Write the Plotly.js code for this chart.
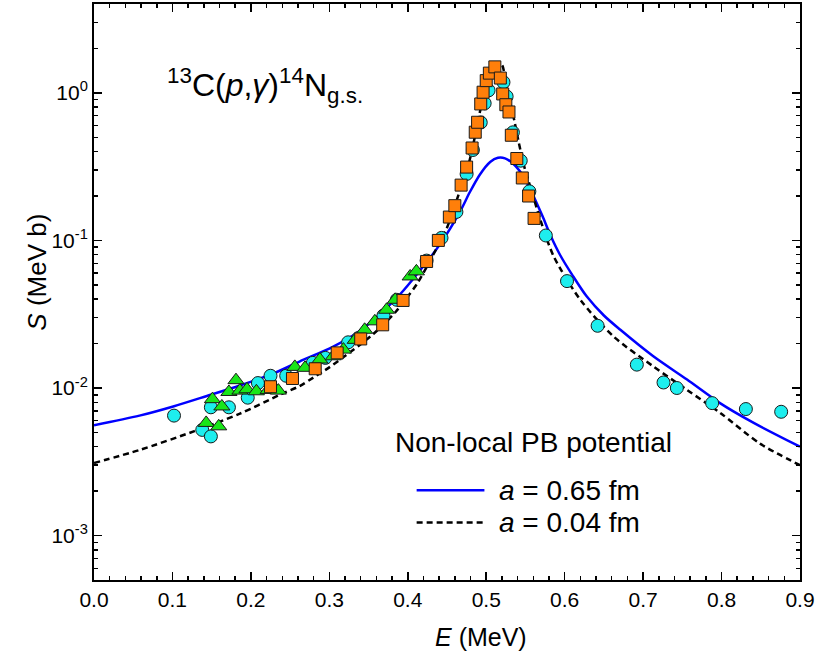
<!DOCTYPE html>
<html>
<head>
<meta charset="utf-8">
<script src="https://cdn.plot.ly/plotly-3.0.1.min.js"></script>
<style>html,body{margin:0;padding:0;background:#fff;}#chart{width:817px;height:665px;}</style>
</head>
<body>
<div id="chart"></div>
<script>
// Experimental data: cyan circles
var cyanE = [0.102, 0.138, 0.149, 0.149, 0.172, 0.196, 0.209, 0.225, 0.245, 0.279, 0.295, 0.324, 0.337, 0.369, 0.386, 0.424, 0.443, 0.462, 0.475, 0.483, 0.493, 0.498, 0.503, 0.522, 0.526, 0.534, 0.544, 0.555, 0.576, 0.603, 0.642, 0.692, 0.726, 0.743, 0.788, 0.831, 0.876];
var cyanS = [6.5e-3, 5.2e-3, 4.7e-3, 7.4e-3, 7.4e-3, 8.6e-3, 1.08e-2, 1.21e-2, 1.21e-2, 1.48e-2, 1.6e-2, 2.04e-2, 2.18e-2, 3.1e-2, 3.96e-2, 7.3e-2, 0.104, 0.156, 0.282, 0.41, 0.63, 0.85, 1.04, 1.18, 0.945, 0.54, 0.347, 0.215, 0.108, 0.053, 0.0264, 0.0144, 0.0109, 0.0100, 0.0079, 0.0072, 0.0069];
// Experimental data: orange squares
var orangeE = [0.225, 0.253, 0.282, 0.310, 0.340, 0.368, 0.394, 0.424, 0.439, 0.453, 0.460, 0.468, 0.475, 0.482, 0.486, 0.489, 0.493, 0.496, 0.500, 0.504, 0.511, 0.518, 0.521, 0.525, 0.529, 0.532, 0.539, 0.546, 0.554, 0.561];
var orangeS = [0.0102, 0.0116, 0.0135, 0.0173, 0.0215, 0.0268, 0.0392, 0.072, 0.100, 0.144, 0.172, 0.237, 0.314, 0.423, 0.541, 0.632, 0.841, 1.01, 1.21, 1.36, 1.50, 1.26, 0.983, 0.831, 0.742, 0.516, 0.359, 0.265, 0.200, 0.141];
// Experimental data: green triangles
var greenE = [0.143, 0.159, 0.151, 0.163, 0.172, 0.181, 0.186, 0.195, 0.207, 0.222, 0.235, 0.256, 0.269, 0.288, 0.305, 0.318, 0.333, 0.345, 0.358, 0.373, 0.384, 0.403, 0.411];
var greenS = [5.8e-3, 5.5e-3, 8.4e-3, 7.5e-3, 9.4e-3, 1.13e-2, 9.6e-3, 9.8e-3, 9.5e-3, 9.7e-3, 9.6e-3, 1.39e-2, 1.37e-2, 1.56e-2, 1.64e-2, 1.82e-2, 2.12e-2, 2.48e-2, 2.83e-2, 3.39e-2, 3.96e-2, 5.7e-2, 6.17e-2];
// Calculation a = 0.65 fm (blue solid)
var blueE = [0, 0.058, 0.101, 0.143, 0.186, 0.228, 0.262, 0.305, 0.335, 0.364, 0.390, 0.415, 0.441, 0.467, 0.479, 0.492, 0.505, 0.515, 0.524, 0.533, 0.543, 0.553, 0.563, 0.572, 0.582, 0.594, 0.610, 0.628, 0.650, 0.671, 0.713, 0.756, 0.798, 0.841, 0.9];
var blueS = [5.6e-3, 6.5e-3, 7.5e-3, 8.8e-3, 1.04e-2, 1.25e-2, 1.51e-2, 1.91e-2, 2.36e-2, 3.15e-2, 4.3e-2, 6.2e-2, 9.4e-2, 0.158, 0.212, 0.280, 0.340, 0.363, 0.360, 0.336, 0.294, 0.240, 0.186, 0.145, 0.108, 0.080, 0.058, 0.0418, 0.031, 0.0248, 0.0164, 0.0114, 0.0079, 0.0058, 0.0040];
// Calculation a = 0.04 fm (black dashed)
var blackE = [0, 0.058, 0.128, 0.186, 0.237, 0.262, 0.280, 0.300, 0.322, 0.340, 0.356, 0.370, 0.385, 0.399, 0.412, 0.424, 0.437, 0.450, 0.464, 0.479, 0.492, 0.498, 0.507, 0.514, 0.520, 0.526, 0.534, 0.541, 0.549, 0.558, 0.569, 0.586, 0.620, 0.662, 0.713, 0.756, 0.798, 0.849, 0.9];
var blackS = [3.1e-3, 3.8e-3, 5.1e-3, 6.7e-3, 9.0e-3, 1.03e-2, 1.18e-2, 1.38e-2, 1.68e-2, 1.98e-2, 2.32e-2, 2.72e-2, 3.3e-2, 4.1e-2, 5.1e-2, 6.6e-2, 0.089, 0.122, 0.199, 0.352, 0.745, 1.02, 1.40, 1.60, 1.55, 1.07, 0.722, 0.474, 0.309, 0.215, 0.138, 0.078, 0.0396, 0.0224, 0.0140, 0.0097, 0.0068, 0.0042, 0.0030];

var seriesNames = ['a = 0.65 fm', 'a = 0.04 fm'];
var yTickVals = [0.001, 0.01, 0.1, 1];
var yTickText = ['10<sup>-3</sup>', '10<sup>-2</sup>', '10<sup>-1</sup>', '10<sup>0</sup>'];
var xTickVals = [0, 0.1, 0.2, 0.3, 0.4, 0.5, 0.6, 0.7, 0.8, 0.9];
var xTickText = ['0.0', '0.1', '0.2', '0.3', '0.4', '0.5', '0.6', '0.7', '0.8', '0.9'];

var yMinor = [];
for (var d = -4; d <= 0; d++) {
  for (var k = 2; k <= 9; k++) { yMinor.push(k * Math.pow(10, d)); }
}

var FONT = 'Arial, "Liberation Sans", sans-serif';
var outline = {color: '#1a1a1a', width: 1};

var traces = [
  {x: blueE, y: blueS, mode: 'lines', name: seriesNames[0], line: {color: '#0000FF', width: 2.5, shape: 'spline', smoothing: 0.8}, showlegend: false},
  {x: blackE, y: blackS, mode: 'lines', name: seriesNames[1], line: {color: '#000000', width: 2.5, dash: '6px,4px', shape: 'spline', smoothing: 0.8}, showlegend: false},
  {x: cyanE, y: cyanS, mode: 'markers', name: 'data 1', marker: {symbol: 'circle', size: 13, color: '#1EEEEE', line: outline}, showlegend: false},
  {x: greenE, y: greenS, mode: 'markers', name: 'data 2', marker: {symbol: 'triangle-up', size: 14, color: '#19E619', line: outline}, showlegend: false},
  {x: orangeE, y: orangeS, mode: 'markers', name: 'data 3', marker: {symbol: 'square', size: 12, color: '#FF7F0A', line: outline}, showlegend: false}
];

var layout = {
  width: 817, height: 665,
  margin: {l: 94, r: 17, t: 4, b: 85},
  paper_bgcolor: '#fff', plot_bgcolor: '#fff',
  font: {family: FONT, color: '#000', size: 21},
  xaxis: {
    range: [0, 0.9], tickmode: 'array', tickvals: xTickVals, ticktext: xTickText,
    ticks: 'inside', ticklen: 8, tickwidth: 1.5, tickcolor: '#000',
    showline: true, linewidth: 2, linecolor: '#000', mirror: 'ticks',
    showgrid: false, zeroline: false,
    minor: {dtick: 0.02, ticks: 'inside', ticklen: 4, tickwidth: 1.5, tickcolor: '#000', showgrid: false},
    tickfont: {size: 21, family: FONT}
  },
  yaxis: {
    type: 'log', range: [Math.log10(5e-4), Math.log10(4)],
    tickmode: 'array', tickvals: yTickVals, ticktext: yTickText,
    ticks: 'inside', ticklen: 8, tickwidth: 1.5, tickcolor: '#000',
    showline: true, linewidth: 2, linecolor: '#000', mirror: 'ticks',
    showgrid: false, zeroline: false,
    minor: {tickmode: 'array', tickvals: yMinor, ticks: 'inside', ticklen: 4, tickwidth: 1.5, tickcolor: '#000', showgrid: false},
    tickfont: {size: 21, family: FONT}
  },
  shapes: [
    {type: 'line', xref: 'paper', yref: 'paper', x0: 0.457, x1: 0.553, y0: 0.156, y1: 0.156, line: {color: '#0000FF', width: 2.5}},
    {type: 'line', xref: 'paper', yref: 'paper', x0: 0.457, x1: 0.553, y0: 0.100, y1: 0.100, line: {color: '#000000', width: 2.5, dash: '6px,4px'}}
  ],
  annotations: [
    {xref: 'paper', yref: 'paper', x: 0.548, y: -0.099, xanchor: 'center', yanchor: 'middle', showarrow: false,
     text: '<i>E</i> (MeV)', font: {size: 25, family: FONT}},
    {xref: 'paper', yref: 'paper', x: -0.081, y: 0.535, xanchor: 'center', yanchor: 'middle', showarrow: false, textangle: -90,
     text: '<i>S</i> (MeV b)', font: {size: 26, family: FONT}},
    {xref: 'paper', yref: 'paper', x: 0.100, y: 0.859, xanchor: 'left', yanchor: 'middle', showarrow: false,
     text: '<sup>13</sup>C(<i>p</i>,<i>γ</i>)<sup>14</sup>N<sub>g.s.</sub>', font: {size: 32, family: FONT}},
    {xref: 'paper', yref: 'paper', x: 0.423, y: 0.238, xanchor: 'left', yanchor: 'middle', showarrow: false,
     text: 'Non-local PB potential', font: {size: 28, family: FONT}},
    {xref: 'paper', yref: 'paper', x: 0.571, y: 0.156, xanchor: 'left', yanchor: 'middle', showarrow: false,
     text: '<i>a</i> = 0.65 fm', font: {size: 28, family: FONT}},
    {xref: 'paper', yref: 'paper', x: 0.571, y: 0.100, xanchor: 'left', yanchor: 'middle', showarrow: false,
     text: '<i>a</i> = 0.04 fm', font: {size: 28, family: FONT}}
  ]
};

Plotly.newPlot('chart', traces, layout, {displayModeBar: false, staticPlot: true});
</script>
</body>
</html>
